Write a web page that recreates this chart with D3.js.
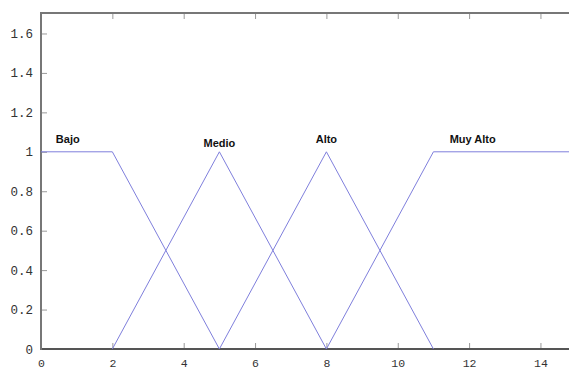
<!DOCTYPE html>
<html>
<head>
<meta charset="utf-8">
<script src="https://cdn.jsdelivr.net/npm/d3@7"></script>
<style>
  body { margin: 0; background: #fff; }
  svg { display: block; }
</style>
</head>
<body>
<svg id="chart" width="569" height="369"></svg>
<script>
// Fuzzy membership functions (x breakpoints, membership values)
const seriesNames = ["Bajo", "Medio", "Alto", "Muy Alto"];
const bajoX = [0, 2, 5];        const bajoY = [1, 1, 0];
const medioX = [2, 5, 8];       const medioY = [0, 1, 0];
const altoX = [5, 8, 11];       const altoY = [0, 1, 0];
const muyAltoX = [8, 11, 15];   const muyAltoY = [0, 1, 1];
const labelX = [0.75, 5, 8, 12.1];
const labelY = [1.03, 1.01, 1.03, 1.03];
const xTicks = [0, 2, 4, 6, 8, 10, 12, 14];
const yTicks = [0, 0.2, 0.4, 0.6, 0.8, 1, 1.2, 1.4, 1.6];

const svg = d3.select("#chart");
const mLeft = 41, mBottom = 349, mTop = 13, mRight = 569;

const x = d3.scaleLinear().domain([0, 15]).range([mLeft, mLeft + 7.5 * 71.35]);
const y = d3.scaleLinear().domain([0, 1.7]).range([mBottom, mBottom - 1.7 * 197.2]);

svg.append("defs").append("clipPath").attr("id", "plot")
  .append("rect").attr("x", mLeft).attr("y", mTop).attr("width", mRight - mLeft).attr("height", mBottom - mTop);

// Axes
const axisColor = "#777";
const monoFont = "'Liberation Mono', 'DejaVu Sans Mono', monospace";
const xAxis = svg.append("g").attr("transform", `translate(0,${mBottom})`)
  .call(d3.axisBottom(x).tickValues(xTicks).tickSize(-6).tickPadding(10).tickFormat(d3.format("d")));
const xTop = svg.append("g").attr("transform", `translate(0,${mTop})`)
  .call(d3.axisTop(x).tickValues(xTicks).tickSize(-6).tickFormat(""));
const yAxis = svg.append("g").attr("transform", `translate(${mLeft},0)`)
  .call(d3.axisLeft(y).tickValues(yTicks).tickSize(-6).tickPadding(8).tickFormat(d => d3.format("")(+d.toFixed(1))));

[xAxis, xTop, yAxis].forEach(g => {
  g.select(".domain").remove();
  g.selectAll(".tick line").attr("stroke", "#999").attr("stroke-width", 1);
  g.selectAll("text").attr("font-family", monoFont).attr("font-size", 12.5).attr("fill", "#333");
});
xAxis.selectAll("text").attr("font-size", 11.5);
xTop.selectAll(".tick").filter(d => d === 0).remove();
xAxis.selectAll(".tick line").filter(d => d === 0).remove();

// Frame lines
svg.append("line").attr("x1", mLeft).attr("x2", mRight).attr("y1", mTop).attr("y2", mTop)
  .attr("stroke", axisColor).attr("stroke-width", 2);
svg.append("line").attr("x1", mLeft).attr("x2", mRight).attr("y1", mBottom).attr("y2", mBottom)
  .attr("stroke", "#555").attr("stroke-width", 2);
svg.append("line").attr("x1", mLeft).attr("x2", mLeft).attr("y1", mTop - 1).attr("y2", mBottom + 1)
  .attr("stroke", axisColor).attr("stroke-width", 2);

// Membership lines
const allX = [bajoX, medioX, altoX, muyAltoX];
const allY = [bajoY, medioY, altoY, muyAltoY];
const line = d3.line().x(d => x(d[0])).y(d => y(d[1]));
const plot = svg.append("g").attr("clip-path", "url(#plot)");
allX.forEach((xs, i) => {
  const pts = xs.map((v, j) => [v, allY[i][j]]);
  plot.append("path").attr("d", line(pts)).attr("fill", "none")
    .attr("stroke", "#7f7fdc").attr("stroke-width", 1);
});

// Series labels
seriesNames.forEach((name, i) => {
  svg.append("text").attr("x", x(labelX[i])).attr("y", y(labelY[i]) - 3)
    .attr("text-anchor", "middle")
    .attr("font-family", "'Liberation Sans', Arial, sans-serif")
    .attr("font-weight", "bold").attr("font-size", 11).attr("fill", "#111")
    .text(name);
});
</script>
</body>
</html>
